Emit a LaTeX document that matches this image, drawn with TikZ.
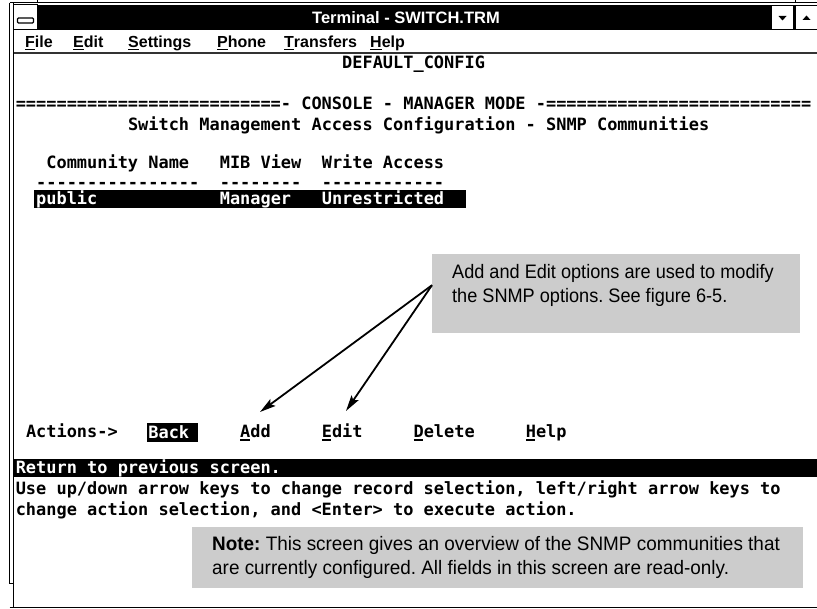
\documentclass[tikz,border=0pt]{standalone}
\usepackage{fontspec}
\usetikzlibrary{arrows.meta}
\newfontfamily\termfont[Ligatures=TeXOff]{DejaVu Sans Mono}
\newfontfamily\uifont{Liberation Sans}
\newfontfamily\callfont[FakeStretch=0.93]{Liberation Sans}
\newfontfamily\notefont[FakeStretch=0.97]{Liberation Sans}
\definecolor{boxgray}{RGB}{204,204,204}
\newcommand\ulc[1]{\rlap{\rule[-2.6pt]{9.4pt}{1.4pt}}#1}
\newcommand\tl[5][]{\node[term,#1] (#2) at ({15.6+10.2*(#3)},#4) {#5};}
\tikzset{
  term/.style={font={\termfont\bfseries\fontsize{16.94}{19}\selectfont}, inner sep=0pt, anchor=west, text height=12pt, text depth=0pt},
  inv/.style={text=white},
  menu/.style={font={\uifont\bfseries\fontsize{16}{19}\selectfont}, inner sep=0pt, anchor=base west},
  calltext/.style={font={\callfont\fontsize{19.5}{24}\selectfont\frenchspacing}, inner sep=0pt, anchor=base west},
  notetext/.style={font={\notefont\fontsize{19.5}{24}\selectfont\frenchspacing}, inner sep=0pt, anchor=base west},
  graybox/.style={fill=boxgray, draw=none, inner sep=0pt, anchor=north west},
  blackbar/.style={fill=black, draw=none, inner sep=0pt, anchor=north west},
  callarrow/.style={line width=1.8pt, -{Stealth[length=16pt,width=8.5pt,inset=3pt]}},
  frame/.style={line width=1pt, black}
}
\begin{document}
\begin{tikzpicture}[x=1pt,y=-1pt]
\useasboundingbox (0,0) rectangle (817,609);
\fill[white] (0,0) rectangle (817,609);
% window frame
\draw[frame] (9.5,3) -- (817,3);
\draw[frame] (37,0) -- (37,3);
\draw[frame] (795,0) -- (795,3);
\draw[frame] (9.5,3) -- (9.5,583) -- (13.5,583);
\draw[frame] (13.5,3) -- (13.5,607);
\draw[frame] (9.5,607) -- (817,607);
% title bar
\fill[black] (37,5) rectangle (817,30);
\draw[frame, fill=white] (13.5,5) rectangle (37,30);
\draw[line width=1.3pt, fill=white, rounded corners=1pt] (17.5,18) rectangle (33.5,23);
\fill[white] (772,6) rectangle (793,29);
\fill[white] (796,6) rectangle (817,29);
\fill[black] (778.5,16) -- (786.5,16) -- (782.5,20.5) -- cycle;
\fill[black] (802.5,20) -- (810.5,20) -- (806.5,15.5) -- cycle;
\node[font={\uifont\bfseries\fontsize{16.5}{19}\selectfont}, text=white, inner sep=0pt] (title) at (406,17.5) {Terminal - SWITCH.TRM};
\draw[frame] (13.5,30) -- (817,30);
% menu bar
\node[menu] (mfile) at (25,47.5) {\underline{F}ile};
\node[menu] (medit) at (73,47.5) {\underline{E}dit};
\node[menu] (msettings) at (128,47.5) {\underline{S}ettings};
\node[menu] (mphone) at (217,47.5) {\underline{P}hone};
\node[menu] (mtransfers) at (284,47.5) {\underline{T}ransfers};
\node[menu] (mhelp) at (370,47.5) {\underline{H}elp};
\draw[line width=1.5pt, black!80] (13.5,53) -- (817,53);
% terminal screen
\tl{cfg}{32}{63}{DEFAULT\_CONFIG}
\tl{console}{0}{104}{==========================- CONSOLE - MANAGER MODE -==========================}
\tl{heading}{11}{125}{Switch Management Access Configuration - SNMP Communities}
\tl{hcomm}{3}{163}{Community Name}
\tl{hmib}{20}{163}{MIB View}
\tl{hwrite}{30}{163}{Write Access}
\tl{dcomm}{2}{183}{----------------}
\tl{dmib}{20}{183}{--------}
\tl{dwrite}{30}{183}{------------}
\node[blackbar, minimum width=432pt, minimum height=18pt] (selbar) at (34,190) {};
\tl[inv]{public}{2}{199}{public}
\tl[inv]{manager}{20}{199}{Manager}
\tl[inv]{unres}{30}{199}{Unrestricted}
\tl{actions}{1}{432}{Actions->}
\node[blackbar, minimum width=51pt, minimum height=19pt] (backbox) at (147,423) {};
\tl[inv]{back}{13}{432.5}{Back}
\tl{add}{22}{432}{\ulc{A}dd}
\tl{edit}{30}{432}{\ulc{E}dit}
\tl{delete}{39}{432}{\ulc{D}elete}
\tl{help}{50}{432}{\ulc{H}elp}
\node[blackbar, minimum width=803pt, minimum height=18pt] (retbar) at (14,459) {};
\tl[inv]{ret}{0}{468}{Return to previous screen.}
\tl{use}{0}{489}{Use up/down arrow keys to change record selection, left/right arrow keys to}
\tl{chg}{0}{509}{change action selection, and <Enter> to execute action.}
% callout
\node[graybox, minimum width=368pt, minimum height=79pt] (callbox) at (432,254) {};
\node[calltext] (callA) at (452,279) {Add and Edit options are used to modify};
\node[calltext] (callB) at (452,303) {the SNMP options. See figure 6-5.};
\coordinate (addtip) at (260,412);
\coordinate (edittip) at (346,411);
\draw[callarrow] ([yshift=8.5pt]callbox.west) -- (addtip);
\draw[callarrow] ([yshift=8.5pt]callbox.west) -- (edittip);
% note
\node[graybox, minimum width=611pt, minimum height=61pt] (notebox) at (192,527) {};
\node[notetext] (noteA) at (212,550) {\textbf{Note:} This screen gives an overview of the SNMP communities that};
\node[notetext] (noteB) at (212,574) {are currently configured. All fields in this screen are read-only.};
\end{tikzpicture}
\end{document}
